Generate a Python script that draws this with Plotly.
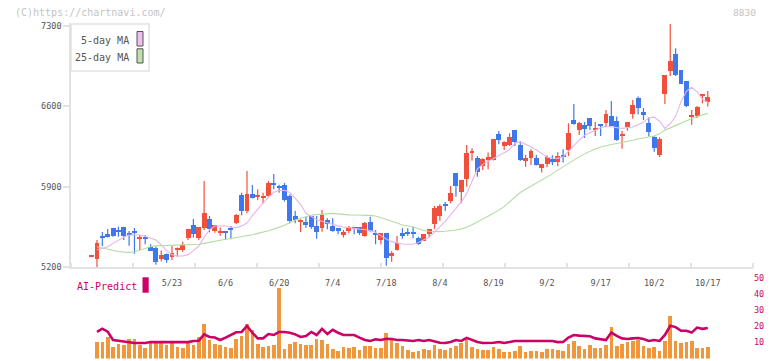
import plotly.graph_objects as go

# ---------------- data ----------------
opens = [5295, 5266, 5472, 5484, 5539, 5524, 5547, 5487, 5515, 5450,
         5452, 5370, 5368, 5272, 5316, 5284, 5350, 5345, 5455, 5568,
         5455, 5542, 5620, 5516, 5492, 5501, 5530, 5585, 5829, 5689,
         5837, 5808, 5797, 5814, 5933, 5895, 5916, 5820, 5643, 5597,
         5594, 5646, 5553, 5536, 5611, 5559, 5536, 5478, 5510, 5537,
         5550, 5472, 5594, 5485, 5437, 5498, 5292, 5347, 5498, 5493,
         5504, 5452, 5429, 5489, 5576, 5646, 5750, 5771, 6020, 5855,
         5962, 6193, 6150, 6075, 6133, 6130, 6359, 6249, 6261, 6394,
         6258, 6118, 6145, 6147, 6058, 6095, 6136, 6110, 6163, 6220,
         6481, 6394, 6434, 6498, 6391, 6430, 6452, 6513, 6472, 6345,
         6417, 6527, 6669, 6550, 6455, 6327, 6176, 6707, 6904, 7055,
         6910, 6814, 6504, 6510, 6694, 6632]
highs = [5295, 5437, 5507, 5533, 5539, 5553, 5553, 5515, 5542, 5481,
         5481, 5400, 5379, 5345, 5321, 5385, 5373, 5423, 5533, 5620,
         5547, 5950, 5646, 5568, 5547, 5518, 5559, 5663, 5849, 6037,
         5916, 5878, 5849, 5950, 6011, 5918, 5933, 5834, 5689, 5617,
         5640, 5646, 5646, 5698, 5626, 5626, 5536, 5524, 5559, 5553,
         5550, 5594, 5640, 5524, 5498, 5498, 5339, 5472, 5539, 5539,
         5550, 5466, 5489, 5533, 5733, 5747, 5768, 5907, 6020, 5959,
         6263, 6234, 6168, 6147, 6197, 6316, 6385, 6295, 6365, 6394,
         6298, 6176, 6226, 6176, 6098, 6174, 6174, 6200, 6226, 6452,
         6620, 6463, 6463, 6498, 6463, 6443, 6568, 6646, 6510, 6385,
         6463, 6655, 6684, 6585, 6504, 6342, 6330, 6872, 7316, 7104,
         6916, 6814, 6568, 6603, 6707, 6733]
lows = [5295, 5197, 5385, 5460, 5466, 5466, 5437, 5388, 5318, 5350,
        5400, 5342, 5223, 5252, 5240, 5263, 5292, 5336, 5437, 5460,
        5437, 5524, 5504, 5501, 5475, 5437, 5443, 5576, 5652, 5669,
        5797, 5785, 5756, 5814, 5878, 5849, 5771, 5582, 5582, 5507,
        5544, 5533, 5449, 5510, 5530, 5510, 5487, 5460, 5495, 5487,
        5480, 5466, 5510, 5400, 5400, 5214, 5249, 5347, 5449, 5472,
        5452, 5397, 5429, 5458, 5533, 5605, 5689, 5756, 5814, 5756,
        5901, 6127, 5988, 6046, 6052, 6128, 6269, 6220, 6255, 6255,
        6124, 6075, 6089, 6084, 6023, 6069, 6089, 6078, 6110, 6168,
        6440, 6350, 6324, 6394, 6342, 6342, 6417, 6428, 6301, 6231,
        6388, 6492, 6530, 6481, 6336, 6205, 6159, 6620, 6863, 6863,
        6794, 6591, 6440, 6498, 6626, 6597]
closes = [5295, 5411, 5458, 5463, 5466, 5501, 5466, 5484, 5492, 5452,
          5450, 5342, 5240, 5304, 5258, 5321, 5359, 5394, 5533, 5489,
          5547, 5672, 5533, 5568, 5516, 5498, 5527, 5655, 5689, 5837,
          5797, 5826, 5820, 5933, 5919, 5893, 5779, 5603, 5608, 5600,
          5562, 5547, 5501, 5655, 5576, 5510, 5510, 5501, 5545, 5535,
          5492, 5585, 5510, 5483, 5498, 5275, 5318, 5411, 5472, 5490,
          5484, 5402, 5489, 5533, 5710, 5727, 5727, 5846, 5901, 5959,
          6194, 6197, 6023, 6142, 6159, 6316, 6307, 6290, 6327, 6290,
          6133, 6145, 6211, 6084, 6098, 6159, 6110, 6165, 6160, 6365,
          6440, 6455, 6397, 6428, 6400, 6428, 6533, 6428, 6301, 6359,
          6463, 6608, 6579, 6524, 6376, 6231, 6316, 6872, 6994, 6872,
          6794, 6597, 6513, 6591, 6698, 6681]

ma5 = [None,
       5350, 5362, 5379, 5408, 5437, 5462, 5481, 5484, 5481, 5470,
       5455, 5437, 5395, 5345, 5310, 5298, 5298, 5310, 5345, 5385,
       5460, 5525, 5559, 5562, 5559, 5550, 5544, 5560, 5585, 5650,
       5705, 5755, 5810, 5852, 5868, 5870, 5850, 5800, 5748, 5670,
       5640, 5615, 5600, 5585, 5572, 5560, 5550, 5542, 5536, 5532,
       5528, 5520, 5505, 5475, 5445, 5423, 5410, 5402, 5400, 5400,
       5415, 5440, 5462, 5505, 5550, 5600, 5655, 5710, 5768, 5840,
       5950, 6055, 6095, 6120, 6145, 6172, 6195, 6222, 6280, 6290,
       6270, 6245, 6222, 6188, 6156, 6150, 6147, 6160, 6205, 6258,
       6305, 6345, 6370, 6392, 6412, 6428, 6422, 6412, 6408, 6414,
       6420, 6440, 6462, 6500, 6505, 6470, 6408, 6450, 6510, 6640,
       6730, 6765, 6725, 6660, 6632]
ma25 = [None,
        5379, 5368, 5355, 5345, 5337, 5332, 5330, 5335, 5350, 5365,
        5378, 5386, 5388, 5388, 5388, 5389, 5390, 5392, 5394, 5400,
        5408, 5418, 5427, 5437, 5444, 5451, 5458, 5465, 5472, 5483,
        5495, 5505, 5518, 5532, 5547, 5566, 5588, 5611, 5626, 5640,
        5652, 5658, 5663, 5667, 5669, 5664, 5658, 5656, 5655, 5655,
        5655, 5651, 5646, 5632, 5618, 5603, 5585, 5568, 5560, 5553,
        5535, 5520, 5514, 5511, 5510, 5513, 5516, 5524, 5534, 5548,
        5570, 5597, 5620, 5643, 5668, 5697, 5727, 5770, 5815, 5850,
        5878, 5905, 5932, 5958, 5983, 6012, 6045, 6075, 6104, 6133,
        6160, 6186, 6210, 6228, 6245, 6258, 6267, 6276, 6284, 6295,
        6305, 6316, 6325, 6334, 6342, 6360, 6394, 6412, 6432, 6455,
        6478, 6493, 6510, 6525, 6539]

volume = [None,
          10.4, 10.4, 13.4, 7.1, 9.0, 8.4, 12.1, 12.1, 8.4, 6.7,
          9.6, 9.6, 9.6, 8.4, 9.6, 7.1, 6.7, 9.6, 8.4, 13.4,
          21.6, 11.7, 9.2, 8.4, 7.1, 6.7, 12.1, 13.7, 21.6, 17.5,
          9.2, 7.1, 8.0, 8.4, 43.6, 5.9, 9.2, 10.4, 8.8, 8.4,
          8.4, 12.1, 11.7, 9.2, 5.9, 4.7, 7.1, 6.7, 7.1, 5.5,
          8.0, 8.0, 6.7, 6.7, 15.9, 12.4, 9.9, 7.6, 5.5, 4.0,
          4.9, 5.9, 5.3, 8.4, 5.9, 5.5, 6.3, 7.8, 9.6, 11.5,
          7.2, 5.9, 5.3, 5.3, 7.2, 5.9, 4.0, 4.0, 4.6, 7.8,
          4.0, 4.6, 4.6, 4.0, 5.9, 5.9, 5.5, 4.9, 9.0, 10.9,
          7.8, 5.9, 8.4, 6.5, 6.5, 8.4, 19.6, 7.8, 9.0, 10.3,
          10.9, 11.5, 7.8, 6.3, 7.2, 4.6, 10.9, 26.4, 10.9, 9.6,
          10.3, 10.9, 6.5, 6.5, 7.2]
ai_predict = [None,
              16.6, 18.5, 16.7, 11.5, 11.0, 10.5, 10.0, 9.6, 9.6, 9.6,
              10.2, 10.2, 10.2, 9.8, 10.2, 10.2, 10.2, 10.2, 10.9, 11.0,
              15.0, 13.4, 13.0, 11.5, 13.0, 14.8, 16.3, 16.5, 20.2, 16.0,
              12.5, 12.5, 15.2, 14.6, 16.5, 16.5, 16.0, 15.0, 13.4, 14.0,
              16.5, 14.6, 18.4, 15.2, 17.8, 16.0, 14.6, 14.6, 14.6, 13.0,
              11.5, 10.9, 11.9, 11.5, 12.3, 12.1, 11.5, 11.5, 11.0, 10.9,
              11.5, 10.9, 11.5, 10.5, 9.8, 9.6, 10.2, 11.5, 10.9, 12.8,
              11.5, 10.2, 9.6, 9.6, 9.8, 10.2, 9.6, 10.2, 10.9, 10.9,
              10.9, 10.9, 10.9, 10.5, 10.9, 10.9, 10.2, 10.3, 13.0, 14.6,
              14.2, 14.0, 13.8, 12.5, 11.8, 11.5, 16.1, 14.0, 12.5, 12.1,
              12.5, 12.7, 12.1, 10.9, 11.5, 10.9, 14.6, 20.3, 19.5, 17.2,
              17.2, 16.1, 19.2, 18.4, 19.0]

tick_labels = ["5/23", "6/6", "6/20", "7/4", "7/18", "8/4",
               "8/19", "9/2", "9/17", "10/2", "10/17"]
tick_index = [15, 25, 35, 45, 55, 65, 75, 85, 95, 105, 115]
price_ticks = [5200, 5900, 6600, 7300]
sub_ticks = [0, 10, 20, 30, 40, 50]

# ---------------- styling ----------------
W, H = 772, 361
L, R = 71, 19
PW = W - L - R
UP, DOWN = "#f0503c", "#3f78ec"
MONO = "DejaVu Sans Mono"
CRIMSON = "#cc0066"
XR = [-3.845, 123.44]


def xp(px):
    return (px - L) / PW


def yp(py):
    return 1 - py / H


n = len(opens)
idx = list(range(n))

fig = go.Figure()

# wicks + bodies
for is_up, col in ((True, UP), (False, DOWN)):
    sel = [i for i in idx if (closes[i] >= opens[i]) == is_up]
    wx, wy = [], []
    for i in sel:
        wx += [i, i, None]
        wy += [lows[i], highs[i], None]
    fig.add_trace(go.Scatter(x=wx, y=wy, mode="lines",
                             line=dict(color=col, width=1.2),
                             hoverinfo="skip", yaxis="y"))
    base = [min(opens[i], closes[i]) for i in sel]
    hgt = [max(abs(closes[i] - opens[i]), 11) for i in sel]
    fig.add_trace(go.Bar(x=sel, y=hgt, base=base, width=0.92,
                         marker=dict(color=col, line=dict(width=0)),
                         yaxis="y"))

fig.add_trace(go.Scatter(x=idx, y=ma5, mode="lines",
                         line=dict(color="#e8b4ec", width=1.1),
                         yaxis="y", hoverinfo="skip"))
fig.add_trace(go.Scatter(x=idx, y=ma25, mode="lines",
                         line=dict(color="#b4dca4", width=1.1),
                         yaxis="y", hoverinfo="skip"))

fig.add_trace(go.Bar(x=idx, y=volume, width=0.68,
                     marker=dict(color="#f0963c", line=dict(width=0)),
                     yaxis="y2"))
fig.add_trace(go.Scatter(x=idx, y=ai_predict, mode="lines",
                         line=dict(color=CRIMSON, width=2.6),
                         yaxis="y2", hoverinfo="skip"))

minor_vals = [XR[0] + (XR[1] - XR[0]) * j / 11 for j in range(12)]

fig.update_layout(
    width=W, height=H, autosize=False,
    margin=dict(l=L, r=R, t=0, b=0, pad=0, autoexpand=False),
    paper_bgcolor="white", plot_bgcolor="white",
    showlegend=False, barmode="overlay", bargap=0,
    xaxis=dict(range=XR, domain=[0, 1], anchor="y",
               showgrid=False, zeroline=False,
               showline=True, linecolor="#e2e2e2", linewidth=1.5,
               tickmode="array", tickvals=tick_index, ticktext=tick_labels,
               ticks="outside", ticklen=7, tickcolor="rgba(0,0,0,0)",
               tickfont=dict(family=MONO, size=8.5, color="#555555"),
               minor=dict(tickmode="array", tickvals=minor_vals,
                          ticks="inside", ticklen=5,
                          tickcolor="#e2e2e2", tickwidth=1.5)),
    yaxis=dict(domain=[yp(267.3), yp(23.3)], range=[5200, 7321],
               showgrid=False, zeroline=False,
               showline=True, linecolor="#e2e2e2", linewidth=1.5,
               tickmode="array", tickvals=price_ticks,
               ticks="outside", ticklen=6, tickcolor="#e2e2e2",
               tickwidth=1.5,
               tickfont=dict(family=MONO, size=8.5, color="#555555")),
    yaxis2=dict(domain=[yp(358.5), yp(278)], range=[0, 50],
                anchor="x", side="right",
                showgrid=False, zeroline=False, showline=False,
                tickmode="array", tickvals=sub_ticks, ticks="",
                tickfont=dict(family=MONO, size=8.5, color=CRIMSON)),
)

shapes = [
    dict(type="rect", xref="paper", yref="paper",
         x0=xp(71), x1=xp(149), y0=yp(71), y1=yp(24),
         line=dict(color="#e2e2e2", width=1.5), fillcolor="white",
         layer="above"),
    dict(type="rect", xref="paper", yref="paper",
         x0=xp(137), x1=xp(143), y0=yp(46), y1=yp(31.5),
         line=dict(color="#555555", width=1), fillcolor="#f0c0f0",
         layer="above"),
    dict(type="rect", xref="paper", yref="paper",
         x0=xp(137), x1=xp(143), y0=yp(63), y1=yp(48.8),
         line=dict(color="#555555", width=1), fillcolor="#c0e0b0",
         layer="above"),
    dict(type="rect", xref="paper", yref="paper",
         x0=xp(142.5), x1=xp(148.7), y0=yp(292.7), y1=yp(277.3),
         line=dict(width=0), fillcolor=CRIMSON, layer="above"),
]
fig.update_layout(shapes=shapes)


def note(text, px, py, anchor, size, color):
    fig.add_annotation(text=text, xref="paper", yref="paper",
                       x=xp(px), y=yp(py), xanchor=anchor, yanchor="middle",
                       showarrow=False,
                       font=dict(family=MONO, size=size, color=color))


note("5-day MA", 131, 40.5, "right", 10, "#555555")
note("25-day MA", 131, 57.2, "right", 10, "#555555")
note("(C)https://chartnavi.com/", 13, 12.5, "left", 10, "#c4c4c4")
note("8830", 758, 12, "right", 9.5, "#c4c4c4")
note("AI-Predict", 75, 286, "left", 10, CRIMSON)

fig.write_html(
    "out.html",
    config={"responsive": False, "displayModeBar": False},
    post_script="document.body.style.margin='0px';"
                "document.body.style.overflow='hidden';",
)
